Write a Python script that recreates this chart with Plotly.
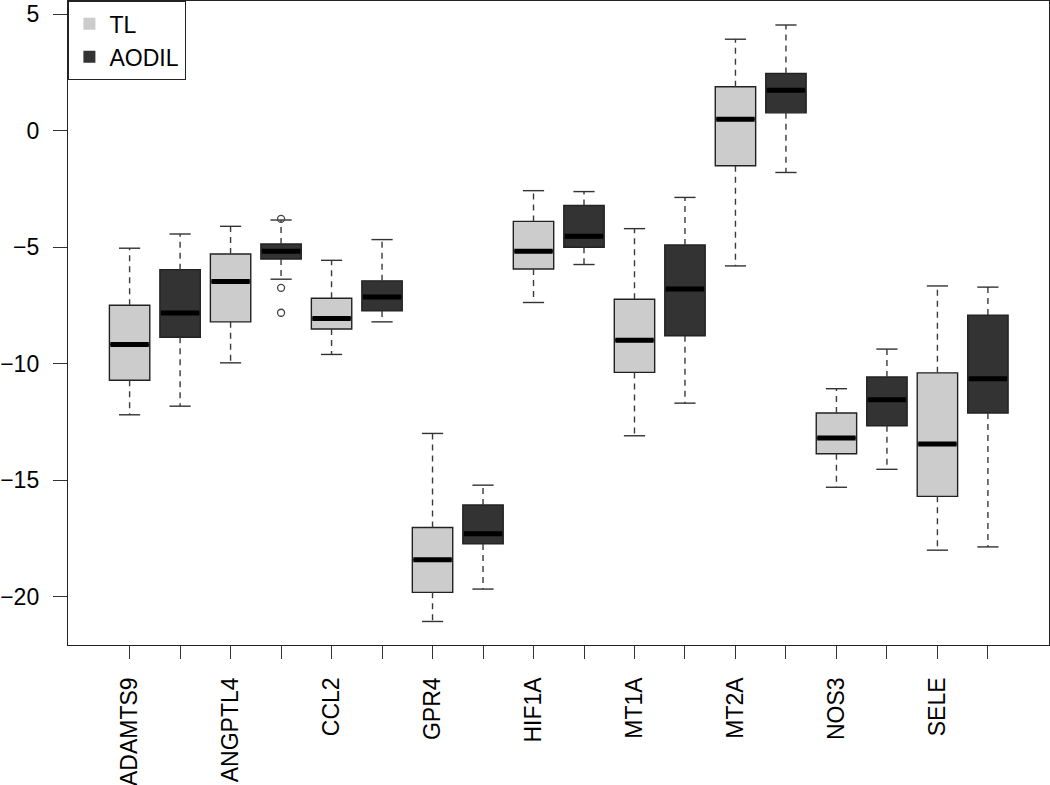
import plotly.graph_objects as go

genes = ["ADAMTS9", "ANGPTL4", "CCL2", "GPR4", "HIF1A", "MT1A", "MT2A", "NOS3", "SELE"]
groups = ["TL", "AODIL"]

tl_lower = [-12.19, -9.96, -9.60, -21.06, -7.37, -13.09, -5.80, -15.30, -18.00]
tl_q1 = [-10.71, -8.20, -8.51, -19.81, -5.93, -10.37, -1.50, -13.86, -15.69]
tl_median = [-9.17, -6.47, -8.06, -18.41, -5.17, -8.99, 0.50, -13.19, -13.44]
tl_q3 = [-7.49, -5.29, -7.19, -17.03, -3.89, -7.23, 1.89, -12.11, -10.39]
tl_upper = [-5.04, -4.10, -5.56, -12.99, -2.57, -4.20, 3.93, -11.07, -6.66]

ao_lower = [-11.82, -6.37, -8.20, -19.67, -5.74, -11.69, -1.79, -14.53, -17.86]
ao_q1 = [-8.86, -5.50, -7.73, -17.73, -5.00, -8.80, 0.77, -12.66, -12.11]
ao_median = [-7.82, -5.17, -7.13, -17.30, -4.53, -6.79, 1.74, -11.54, -10.64]
ao_q3 = [-5.96, -4.86, -6.44, -16.06, -3.21, -4.90, 2.46, -10.57, -7.91]
ao_upper = [-4.43, -3.83, -4.67, -15.21, -2.61, -2.86, 4.54, -9.37, -6.71]

outlier_gene = "ANGPTL4"
outlier_group = "AODIL"
outlier_values = [-3.78, -6.74, -7.81]

FONT = "Liberation Sans, Arial, sans-serif"
FS = 23
fills = {"TL": "#cccccc", "AODIL": "#333333"}
BOXW = 0.8
CAPW = 0.42

stats = {
    "TL": (tl_lower, tl_q1, tl_median, tl_q3, tl_upper),
    "AODIL": (ao_lower, ao_q1, ao_median, ao_q3, ao_upper),
}

fig = go.Figure()

def pos(gi, grp):
    return 2 * gi + 1 + groups.index(grp)

wx, wy, cx, cy, mx, my = [], [], [], [], [], []
for grp in groups:
    lo, q1, med, q3, hi = stats[grp]
    xs = [pos(i, grp) for i in range(len(genes))]
    for x, a, b, c, d in zip(xs, lo, q1, q3, hi):
        wx += [x, x, None, x, x, None]
        wy += [c, d, None, b, a, None]
        cx += [x - CAPW / 2, x + CAPW / 2, None, x - CAPW / 2, x + CAPW / 2, None]
        cy += [d, d, None, a, a, None]

fig.add_trace(go.Scatter(x=wx, y=wy, mode="lines", showlegend=False, hoverinfo="skip",
                         line=dict(color="#3a3a3a", width=1.4, dash="6px,5px")))
fig.add_trace(go.Scatter(x=cx, y=cy, mode="lines", showlegend=False, hoverinfo="skip",
                         line=dict(color="#333333", width=1.4)))

for grp in groups:
    lo, q1, med, q3, hi = stats[grp]
    xs = [pos(i, grp) for i in range(len(genes))]
    fig.add_trace(go.Box(
        x=xs, q1=q1, median=med, q3=q3, lowerfence=q1, upperfence=q3,
        width=BOXW, fillcolor=fills[grp], line=dict(color="#222222", width=1.4),
        showlegend=False, hoverinfo="skip", boxpoints=False, whiskerwidth=0,
    ))
    for x, m in zip(xs, med):
        mx += [x - BOXW / 2 + 0.02, x + BOXW / 2 - 0.02, None]
        my += [m, m, None]

fig.add_trace(go.Scatter(x=mx, y=my, mode="lines", showlegend=False, hoverinfo="skip",
                         line=dict(color="#000000", width=5)))

ox = [pos(genes.index(outlier_gene), outlier_group)] * len(outlier_values)
fig.add_trace(go.Scatter(x=ox, y=outlier_values, mode="markers", showlegend=False, hoverinfo="skip",
                         marker=dict(symbol="circle-open", size=7, color="#444444",
                                     line=dict(width=1.3, color="#444444"))))

for grp in groups:
    fig.add_trace(go.Scatter(x=[None], y=[None], mode="markers", name=grp,
                             marker=dict(symbol="square", size=12, color=fills[grp])))

tickvals = list(range(1, 2 * len(genes) + 1))
ticktext = []
for g in genes:
    ticktext += [g, ""]

fig.update_layout(
    width=1050, height=785,
    margin=dict(l=68, r=1, t=1, b=140),
    paper_bgcolor="white", plot_bgcolor="white",
    font=dict(family=FONT, size=FS, color="black"),
    legend=dict(x=0, y=1, xanchor="left", yanchor="top",
                bordercolor="#222222", borderwidth=1.4, bgcolor="white",
                font=dict(family=FONT, size=FS), itemsizing="constant",
                tracegroupgap=0),
    xaxis=dict(range=[-0.22, 19.21], tickvals=tickvals, ticktext=ticktext,
               tickangle=-90, ticks="outside", ticklen=13, tickcolor="#333333",
               tickwidth=1.3,
               showline=True, mirror=True, linecolor="#222222", linewidth=1.4,
               showgrid=False, zeroline=False, ticklabelstandoff=9,
               automargin=False),
    yaxis=dict(range=[-22.07, 5.57], tickvals=[-20, -15, -10, -5, 0, 5],
               ticks="outside", ticklen=14, tickcolor="#333333", tickwidth=1.3,
               showline=True, mirror=True, linecolor="#222222", linewidth=1.4,
               showgrid=False, zeroline=False, ticklabelstandoff=9,
               automargin=False),
)

fig.write_html(
    "out.html",
    config={"displayModeBar": False},
    post_script="document.body.style.margin='0';document.body.style.overflow='hidden';",
)
